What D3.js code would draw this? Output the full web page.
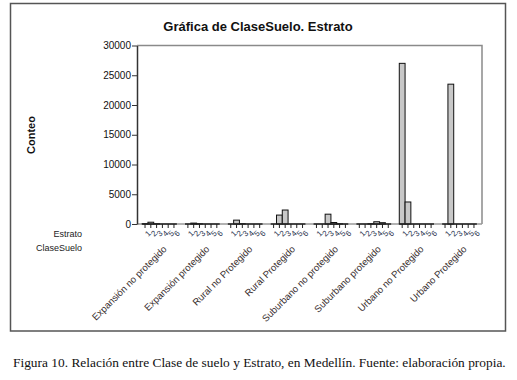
<!DOCTYPE html>
<html><head><meta charset="utf-8">
<script src="https://cdn.jsdelivr.net/npm/d3@7"></script>
<style>body{margin:0;background:#fff}svg{display:block}</style>
</head><body>
<svg id="c" width="517" height="380"></svg>
<script>
const categories = ["Expansión no protegido","Expansión protegido","Rural no Protegido","Rural Protegido","Suburbano no protegido","Suburbano protegido","Urbano no Protegido","Urbano Protegido"];
const strata = ["1","2","3","4","5","6"];
// counts per category, strata 1..6
const counts = [
  [40, 300, 40, 0, 0, 0],
  [0, 150, 30, 0, 0, 0],
  [0, 650, 40, 0, 0, 0],
  [0, 1500, 2350, 0, 0, 0],
  [0, 0, 1650, 250, 30, 0],
  [0, 0, 40, 380, 220, 0],
  [27000, 3700, 0, 0, 0, 0],
  [0, 23500, 0, 0, 0, 0]
];
const yTicks = [0, 5000, 10000, 15000, 20000, 25000, 30000];

const svg = d3.select("#c");
const sans = "'Liberation Sans', Arial, sans-serif";
// outer frame
svg.append("rect").attr("x",10.5).attr("y",3.5).attr("width",495).attr("height",327.5)
  .attr("fill","#fff").attr("stroke","#555").attr("stroke-width",1.5);

const L=137, R=482, T=45.5, B=224;
const x0 = d3.scaleBand().domain(categories).range([L,R]).paddingInner(0.19).paddingOuter(0.12);
const x1 = d3.scaleBand().domain(strata).range([0,x0.bandwidth()]);
const y = d3.scaleLinear().domain([0,30000]).range([B,T]);

// title
svg.append("text").attr("x",258).attr("y",31).attr("text-anchor","middle")
  .attr("font-family",sans).attr("font-weight","bold").attr("font-size",13).attr("fill","#111")
  .text("Gráfica de ClaseSuelo. Estrato");

// plot frame (top and right gray)
svg.append("path").attr("d",`M${L},${T}H${R}V${B}`).attr("fill","none").attr("stroke","#8a8a8a").attr("stroke-width",1.5);
// baseline gray
svg.append("line").attr("x1",L).attr("x2",R).attr("y1",B).attr("y2",B).attr("stroke","#999").attr("stroke-width",1.5);

// bars
const g = svg.append("g");
categories.forEach((c,i)=>{
  const gx = x0(c);
  strata.forEach((s,j)=>{
    const v = counts[i][j];
    if(v>0){
      g.append("rect").attr("x",gx+x1(s)).attr("y",y(v)).attr("width",x1.bandwidth()).attr("height",B-y(v))
        .attr("fill","#c8c8c8").attr("stroke","#111").attr("stroke-width",1);
    }
  });
  // group axis segment
  svg.append("line").attr("x1",gx).attr("x2",gx+x0.bandwidth()).attr("y1",B).attr("y2",B)
    .attr("stroke","#222").attr("stroke-width",1.5);
  strata.forEach(s=>{
    const cx = gx + x1(s) + x1.bandwidth()/2;
    svg.append("line").attr("x1",cx).attr("x2",cx).attr("y1",B).attr("y2",B+4).attr("stroke","#222").attr("stroke-width",1);
    svg.append("text").attr("transform",`translate(${cx+2.5},${B+6}) rotate(-45)`)
      .attr("text-anchor","end").attr("dy","0.7em").attr("font-family",sans).attr("font-size",8).attr("fill","#2a3550").text(s);
  });
  // category label
  const ccx = gx + x0.bandwidth()/2;
  svg.append("text").attr("transform",`translate(${ccx+3},${B+21}) rotate(-45)`)
    .attr("text-anchor","end").attr("dy","0.7em").attr("font-family",sans).attr("font-size",9.6).attr("fill","#3a3030").text(c);
});

// y axis
const ya = svg.append("g").attr("transform",`translate(${L},0)`)
  .call(d3.axisLeft(y).tickValues(yTicks).tickSize(5).tickSizeOuter(0).tickFormat(d3.format("d")));
ya.select(".domain").attr("stroke","#333").attr("stroke-width",1.5);
ya.selectAll(".tick line").attr("stroke","#333");
ya.selectAll("text").attr("font-family",sans).attr("font-size",10).attr("fill","#111").attr("x",-6);

// y title
svg.append("text").attr("transform","translate(35,135) rotate(-90)").attr("text-anchor","middle")
  .attr("font-family",sans).attr("font-weight","bold").attr("font-size",11).attr("fill","#111").text("Conteo");

// factor labels
svg.append("text").attr("x",82).attr("y",237).attr("text-anchor","end").attr("font-family",sans).attr("font-size",9).attr("fill","#222").text("Estrato");
svg.append("text").attr("x",82).attr("y",251).attr("text-anchor","end").attr("font-family",sans).attr("font-size",9).attr("fill","#222").text("ClaseSuelo");

// caption
svg.append("text").attr("x",13).attr("y",367).attr("font-family","'Liberation Serif','Times New Roman',serif")
  .attr("font-size",13.4).attr("fill","#111")
  .text("Figura 10. Relación entre Clase de suelo y Estrato, en Medellín. Fuente: elaboración propia.");
</script>
</body></html>
